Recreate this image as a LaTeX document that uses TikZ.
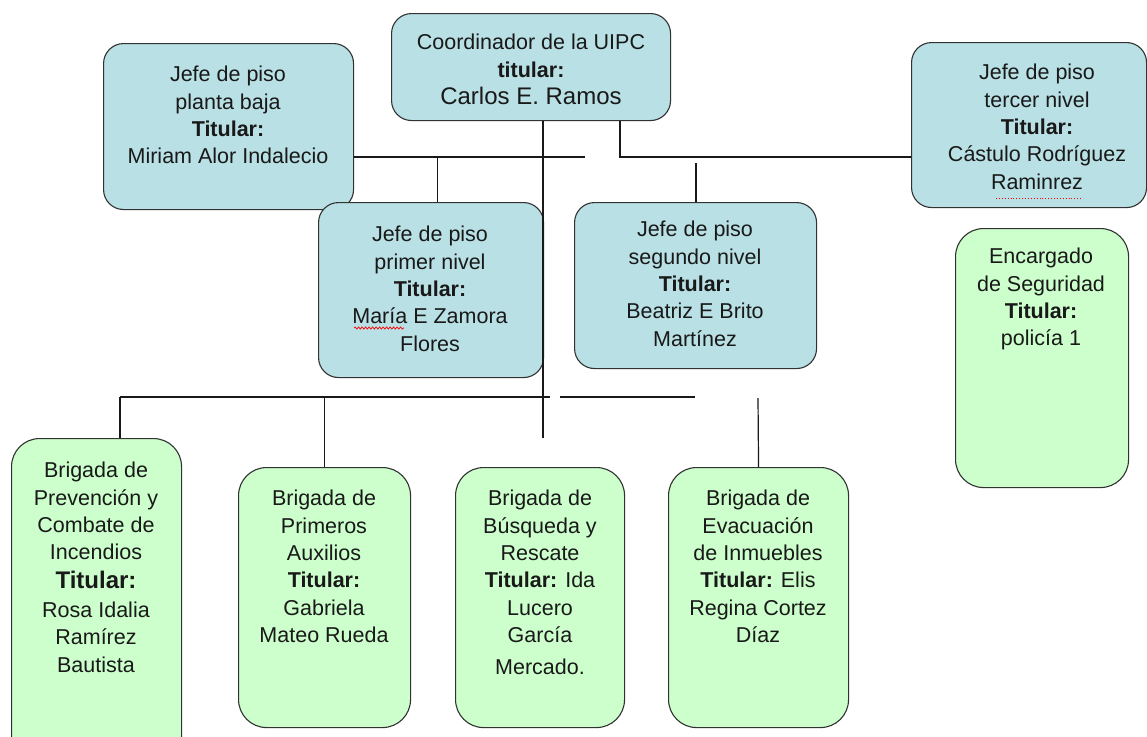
\documentclass[tikz,border=0pt]{standalone}
\usepackage{fontspec}
\setmainfont{Liberation Sans}
\usetikzlibrary{decorations.pathmorphing}
\definecolor{bluefill}{RGB}{185,224,228}
\definecolor{greenfill}{RGB}{204,255,204}
\definecolor{edge}{RGB}{50,50,50}
\definecolor{ink}{RGB}{25,25,25}
\newcommand{\bigline}[1]{{\fontsize{24}{28}\selectfont #1}}
\begin{document}
\begin{tikzpicture}[x=1pt,y=-1pt,
  box/.style={draw=edge, line width=1.1pt, rounded corners=20pt, anchor=north west, inner sep=0pt},
  bluebox/.style={box, fill=bluefill},
  greenbox/.style={box, fill=greenfill, rounded corners=28pt},
  label/.style={anchor=north, align=center, inner sep=0pt, text=ink, font=\fontsize{21.5}{27.4}\selectfont},
  link/.style={line width=1.2pt, draw=black!90}]

\fill[white] (0,0) rectangle (1147,736);
\useasboundingbox (0,0) rectangle (1147,736);

% boxes
\node[bluebox, minimum width=279pt, minimum height=107pt] (coord) at (391,13) {};
\node[bluebox, minimum width=250pt, minimum height=166pt] (pb) at (103,43) {};
\node[bluebox, minimum width=225pt, minimum height=175pt] (pn) at (318,202) {};
\node[bluebox, minimum width=242pt, minimum height=166pt] (sn) at (574,202) {};
\node[bluebox, minimum width=235pt, minimum height=165pt] (tn) at (911,42) {};
\node[greenbox, minimum width=173pt, minimum height=259pt] (seg) at (955,228) {};
\node[greenbox, minimum width=170pt, minimum height=330pt] (prev) at (11,438) {};
\node[greenbox, minimum width=172pt, minimum height=260pt] (prim) at (238,467) {};
\node[greenbox, minimum width=169pt, minimum height=260pt] (busq) at (455,467) {};
\node[greenbox, minimum width=180pt, minimum height=260pt] (evac) at (668,467) {};

% texts
\node[label] (coord-t) at (531,34) {Coordinador de la UIPC\\ \textbf{titular:}\\ \bigline{Carlos E. Ramos}};
\node[label] (pb-t) at (228,66) {Jefe de piso\\ planta baja\\ \textbf{Titular:}\\ Miriam Alor Indalecio};
\node[label] (pn-t) at (430,226) {Jefe de piso\\ primer nivel\\ \textbf{Titular:}\\ María E Zamora\\ Flores};
\node[label] (sn-t) at (695,221) {Jefe de piso\\ segundo nivel\\ \textbf{Titular:}\\ Beatriz E Brito\\ Martínez};
\node[label] (tn-t) at (1037,64) {Jefe de piso\\ tercer nivel\\ \textbf{Titular:}\\ Cástulo Rodríguez\\ Raminrez};
\node[label] (seg-t) at (1041,248) {Encargado\\ de Seguridad\\ \textbf{Titular:}\\ policía 1};
\node[label] (prev-t) at (96,462) {Brigada de\\ Prevención y\\ Combate de\\ Incendios\\[1pt] \bigline{\textbf{Titular:}}\\[1.5pt] Rosa Idalia\\ Ramírez\\ Bautista};
\node[label] (prim-t) at (324,490) {Brigada de\\ Primeros\\ Auxilios\\ \textbf{Titular:}\\ Gabriela\\ Mateo Rueda};
\node[label] (busq-t) at (540,490) {Brigada de\\ Búsqueda y\\ Rescate\\ \textbf{Titular:} Ida\\ Lucero\\ García\\[4pt] Mercado.};
\node[label] (evac-t) at (758,490) {Brigada de\\ Evacuación\\ de Inmuebles\\ \textbf{Titular:} Elis\\ Regina Cortez\\ Díaz};

% spelling marks under two names
\draw[red, line width=0.7pt, decorate, decoration={snake, amplitude=1.1pt, segment length=3.5pt}] (354,328) -- (404,328);
\draw[red, line width=0.9pt, dotted] (996,198) -- (1083,198);

% upper connectors
\coordinate (jA) at (585,157);
\coordinate (rt) at (620,157);
\coordinate (spine) at (543,438);
\coordinate (sv) at (696,163);
\draw[link] (pb.east |- jA) -- (jA);
\draw[link] ([xshift=6.5pt]pn.north |- jA) -- ([xshift=6.5pt]pn.north);
\draw[link] (coord.south -| spine) -- (spine);
\draw[link] (coord.south -| rt) -- (rt) -- (tn.west |- rt);
\draw[link] (sv) -- (sv |- sn.north);

% lower connectors
\coordinate (bl) at (120,397);
\coordinate (bm) at (550,397);
\coordinate (bm2) at (560,397);
\coordinate (br) at (695,397);
\coordinate (ev) at (758,398);
\draw[link] (bl) -- (bm);
\draw[link] (bm2) -- (br);
\draw[link] (bl) -- (bl |- prev.north);
\draw[link] (prim.north |- bl) -- (prim.north);
\draw[link] (ev) -- (evac.north);
\end{tikzpicture}
\end{document}
